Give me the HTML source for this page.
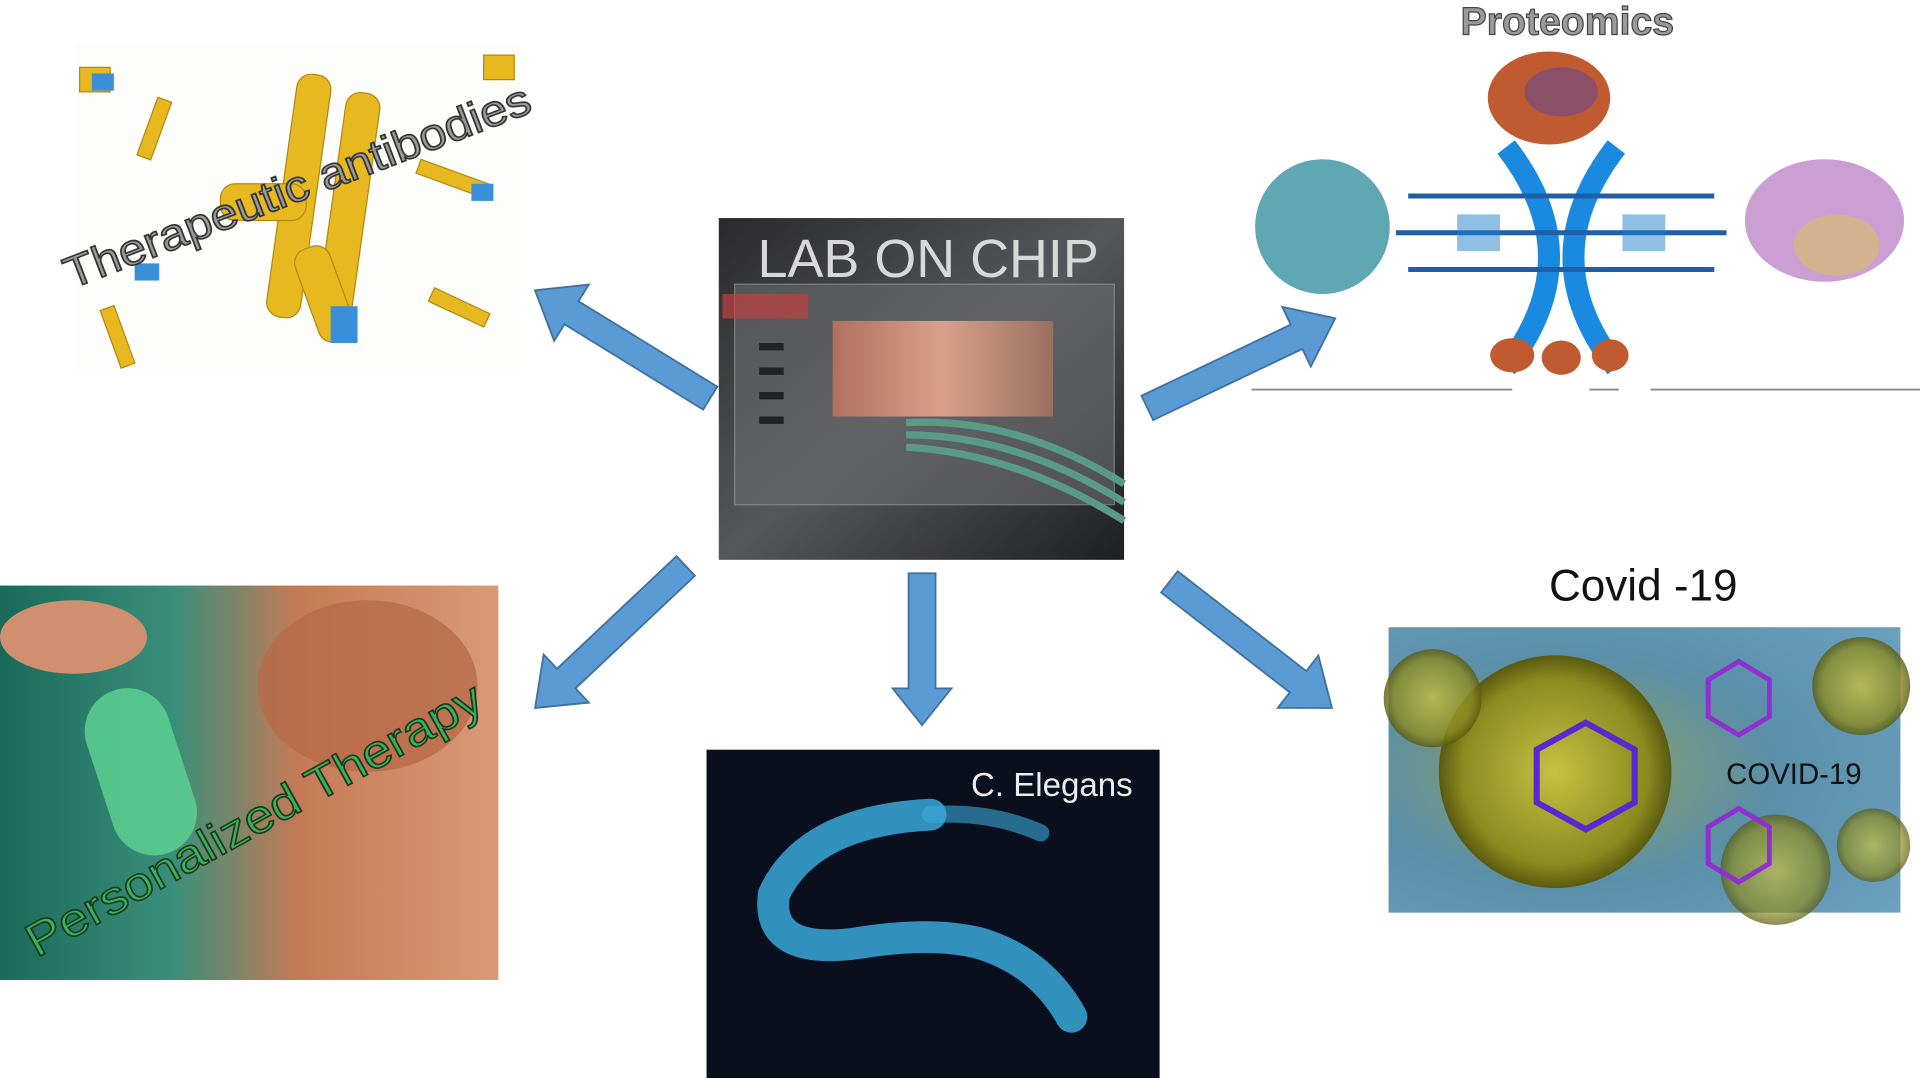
<!DOCTYPE html>
<html><head><meta charset="utf-8"><style>
html,body{margin:0;padding:0;background:#fff;}
svg{display:block;}
text{font-family:"Liberation Sans",sans-serif;}
</style></head><body>
<svg width="1920" height="1078" viewBox="0 0 1568 880" preserveAspectRatio="none" xmlns="http://www.w3.org/2000/svg">
<defs>
<linearGradient id="chip" x1="0" y1="0" x2="1" y2="1"><stop offset="0" stop-color="#2a2a2c"/><stop offset="0.5" stop-color="#55575a"/><stop offset="1" stop-color="#1e1f22"/></linearGradient>
<linearGradient id="chan" x1="0" y1="0" x2="1" y2="0"><stop offset="0" stop-color="#b07060"/><stop offset="0.5" stop-color="#d9a08a"/><stop offset="1" stop-color="#9a7060"/></linearGradient>
<linearGradient id="pers" x1="0" y1="0" x2="1" y2="0"><stop offset="0" stop-color="#1a6a5a"/><stop offset="0.35" stop-color="#3a8f7a"/><stop offset="0.6" stop-color="#c57a55"/><stop offset="1" stop-color="#d99a78"/></linearGradient>
<radialGradient id="cov" cx="0.35" cy="0.5" r="0.8"><stop offset="0" stop-color="#8fa060"/><stop offset="0.5" stop-color="#5a8fa8"/><stop offset="1" stop-color="#6aa0c0"/></radialGradient>
<radialGradient id="vir" cx="0.5" cy="0.5" r="0.5"><stop offset="0" stop-color="#c8c040"/><stop offset="0.8" stop-color="#8a8a20"/><stop offset="1" stop-color="#5a5a10"/></radialGradient>
</defs>

<!-- Therapeutic antibodies -->
<rect x="62" y="35" width="363" height="270" fill="#fdfdfb"/>
<g fill="#e8b820" stroke="#b08a10" stroke-width="1">
<rect x="230" y="60" width="28" height="200" rx="12" transform="rotate(8 244 160)"/>
<rect x="270" y="75" width="28" height="200" rx="12" transform="rotate(8 284 175)"/>
<rect x="250" y="200" width="30" height="80" rx="12" transform="rotate(-20 265 240)"/>
<rect x="180" y="150" width="70" height="30" rx="12"/>
<rect x="120" y="80" width="12" height="50" transform="rotate(20 126 105)"/>
<rect x="340" y="140" width="60" height="12" transform="rotate(20 370 146)"/>
<rect x="350" y="245" width="50" height="12" transform="rotate(25 375 251)"/>
<rect x="90" y="250" width="12" height="50" transform="rotate(-20 96 275)"/>
<rect x="65" y="55" width="25" height="20"/>
<rect x="395" y="45" width="25" height="20"/>
</g>
<g fill="#3a90d8"><rect x="75" y="60" width="18" height="14"/><rect x="270" y="250" width="22" height="30"/><rect x="385" y="150" width="18" height="14"/><rect x="110" y="215" width="20" height="14"/></g>
<text x="0" y="0" font-size="36" fill="#9a9a9a" stroke="#333" stroke-width="1.3" textLength="405" lengthAdjust="spacingAndGlyphs" transform="translate(58 236) rotate(-21)">Therapeutic antibodies</text>

<!-- Proteomics -->
<rect x="1020" y="35" width="548" height="283" fill="#fff"/>
<line x1="1022" y1="318" x2="1235" y2="318" stroke="#888" stroke-width="1.5"/>
<line x1="1298" y1="318" x2="1322" y2="318" stroke="#888" stroke-width="1.5"/>
<line x1="1348" y1="318" x2="1568" y2="318" stroke="#888" stroke-width="1.5"/>
<text x="1280" y="28" font-size="32" font-weight="bold" fill="#9a9a9a" stroke="#444" stroke-width="1" text-anchor="middle">Proteomics</text>
<ellipse cx="1265" cy="80" rx="50" ry="38" fill="#c05a30"/>
<ellipse cx="1275" cy="75" rx="30" ry="20" fill="#6a4a90" opacity="0.6"/>
<g stroke="#1a8ae0" stroke-width="18" fill="none"><path d="M1230 120 Q1300 210 1230 300"/><path d="M1320 120 Q1250 210 1320 300"/></g>
<g stroke="#1f5fa8" stroke-width="4"><line x1="1150" y1="160" x2="1400" y2="160"/><line x1="1140" y1="190" x2="1410" y2="190"/><line x1="1150" y1="220" x2="1400" y2="220"/></g>
<g fill="#2080c8"><rect x="1190" y="175" width="35" height="30" opacity="0.5"/><rect x="1325" y="175" width="35" height="30" opacity="0.5"/></g>
<ellipse cx="1235" cy="290" rx="18" ry="14" fill="#c05a30"/><ellipse cx="1275" cy="292" rx="16" ry="14" fill="#c05a30"/><ellipse cx="1315" cy="290" rx="15" ry="13" fill="#c05a30"/>
<ellipse cx="1080" cy="185" rx="55" ry="55" fill="#2a8a9a" opacity="0.75"/>
<ellipse cx="1490" cy="180" rx="65" ry="50" fill="#a050b0" opacity="0.55"/>
<ellipse cx="1500" cy="200" rx="35" ry="25" fill="#d8c060" opacity="0.6"/>

<!-- Lab on chip -->
<rect x="587" y="178" width="331" height="279" fill="url(#chip)"/>
<rect x="600" y="232" width="310" height="180" fill="#6a6c70" opacity="0.6" stroke="#aaa"/>
<rect x="680" y="262" width="180" height="78" fill="url(#chan)"/>
<rect x="590" y="240" width="70" height="20" fill="#c04040" opacity="0.7"/>
<g fill="#222"><rect x="620" y="280" width="20" height="6"/><rect x="620" y="300" width="20" height="6"/><rect x="620" y="320" width="20" height="6"/><rect x="620" y="340" width="20" height="6"/></g>
<g stroke="#5a9a88" stroke-width="6" fill="none"><path d="M740 345 Q830 340 918 395"/><path d="M740 355 Q830 355 918 410"/><path d="M740 365 Q830 370 918 425"/></g>
<text x="758" y="226" font-size="44" fill="#d8d8d8" text-anchor="middle">LAB ON CHIP</text>

<!-- Personalized therapy -->
<rect x="0" y="478" width="407" height="322" fill="url(#pers)"/>
<ellipse cx="60" cy="520" rx="60" ry="30" fill="#d09070"/>
<ellipse cx="300" cy="560" rx="90" ry="70" fill="#b86a48" opacity="0.8"/>
<rect x="80" y="560" width="70" height="140" rx="35" fill="#5ad090" opacity="0.85" transform="rotate(-18 115 630)"/>
<text x="0" y="0" font-size="38" fill="#3ab060" stroke="#1a3a1a" stroke-width="1.3" textLength="420" lengthAdjust="spacingAndGlyphs" transform="translate(30 782) rotate(-29)">Personalized Therapy</text>

<!-- C. Elegans -->
<rect x="577" y="612" width="370" height="268" fill="#0a0f1e"/>
<path d="M760 665 Q660 670 632 730 Q625 780 700 770 Q760 760 800 770 Q850 785 875 830" stroke="#3aa8d8" stroke-width="26" fill="none" stroke-linecap="round" opacity="0.85"/>
<path d="M760 665 Q810 662 850 680" stroke="#3aa8d8" stroke-width="14" fill="none" stroke-linecap="round" opacity="0.6"/>
<text x="925" y="650" font-size="27" fill="#eee" text-anchor="end">C. Elegans</text>

<!-- Covid -->
<text x="1342" y="490" font-size="36" fill="#111" text-anchor="middle">Covid -19</text>
<rect x="1134" y="512" width="418" height="233" fill="url(#cov)"/>
<circle cx="1270" cy="630" r="95" fill="url(#vir)"/>
<circle cx="1170" cy="570" r="40" fill="url(#vir)" opacity="0.8"/>
<circle cx="1520" cy="560" r="40" fill="url(#vir)" opacity="0.8"/>
<circle cx="1450" cy="710" r="45" fill="url(#vir)" opacity="0.7"/>
<circle cx="1530" cy="690" r="30" fill="url(#vir)" opacity="0.7"/>
<polygon points="1295,590 1335,612 1335,655 1295,677 1255,655 1255,612" fill="none" stroke="#5a28d0" stroke-width="5"/>
<polygon points="1420,540 1445,555 1445,585 1420,600 1395,585 1395,555" fill="none" stroke="#9030d0" stroke-width="4"/>
<polygon points="1420,660 1445,675 1445,705 1420,720 1395,705 1395,675" fill="none" stroke="#9030d0" stroke-width="4"/>
<text x="1465" y="640" font-size="24" fill="#111" text-anchor="middle">COVID-19</text>

<!-- Arrows -->
<g fill="#5b9bd5" stroke="#41719c" stroke-width="1.5">
<polygon points="0,-11 133,-11 133,-27 168,0 133,27 133,11 0,11" transform="translate(580 325) rotate(211.6)"/>
<polygon points="0,-11 135,-11 135,-27 170,0 135,27 135,11 0,11" transform="translate(937 333) rotate(-25.5)"/>
<polygon points="0,-11 134,-11 134,-27 169,0 134,27 134,11 0,11" transform="translate(560 462) rotate(136.7)"/>
<polygon points="0,-11 94,-11 94,-24 124,0 94,24 94,11 0,11" transform="translate(753 468) rotate(90)"/>
<polygon points="0,-11 133,-11 133,-27 168,0 133,27 133,11 0,11" transform="translate(955 475) rotate(37.8)"/>
</g>
</svg>
</body></html>
